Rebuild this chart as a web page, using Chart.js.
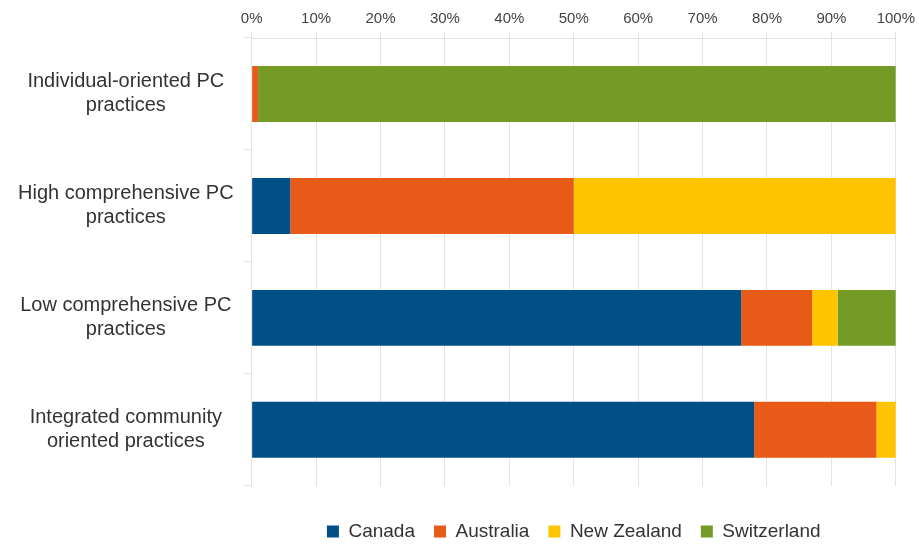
<!DOCTYPE html>
<html>
<head>
<meta charset="utf-8">
<script src="https://cdn.jsdelivr.net/npm/chart.js@4"></script>
<style>
  html, body { margin: 0; padding: 0; background: #fff; }
  #wrap { width: 919px; height: 544px; position: relative; }
</style>
</head>
<body>
<div id="wrap"><canvas id="grafico"></canvas></div>
<script>
// categorias (eixo y) e valores por país, em %
const categorias = [
    ["Individual-oriented PC", "practices"],
    ["High comprehensive PC", "practices"],
    ["Low comprehensive PC", "practices"],
    ["Integrated community", "oriented practices"]
];
const canada      = [0, 6, 76, 78];
const australia   = [1, 44, 11, 19];
const novaZelandia = [0, 50, 4, 3];
const suica       = [99, 0, 9, 0];
const ticksX = [0, 10, 20, 30, 40, 50, 60, 70, 80, 90, 100];

const fonte = "'Liberation Sans', Arial, sans-serif";

const ctx = document.getElementById("grafico").getContext("2d");
new Chart(ctx, {
    type: "bar",
    data: {
        labels: categorias,
        datasets: [
            { label: "Canada", data: canada, backgroundColor: "#004f86" },
            { label: "Australia", data: australia, backgroundColor: "#e85a18" },
            { label: "New Zealand", data: novaZelandia, backgroundColor: "#ffc400" },
            { label: "Switzerland", data: suica, backgroundColor: "#739b26" }
        ]
    },
    options: {
        indexAxis: "y",
        responsive: true,
        maintainAspectRatio: false,
        animation: false,
        layout: { padding: { top: 6, left: 8, right: 12, bottom: -7 } },
        datasets: {
            bar: { categoryPercentage: 1, barPercentage: 0.5, borderWidth: 0 }
        },
        scales: {
            x: {
                position: "top",
                stacked: true,
                min: 0,
                max: 100,
                afterBuildTicks: function (axis) {
                    axis.ticks = ticksX.map(v => ({ value: v }));
                },
                ticks: {
                    callback: v => v + "%",
                    color: "#444",
                    font: { family: fonte, size: 15 },
                    padding: 4,
                    maxRotation: 0
                },
                grid: { color: "#e3e3e3", tickLength: 6 },
                border: { color: "#e3e3e3" }
            },
            y: {
                stacked: true,
                ticks: {
                    color: "#333",
                    font: { family: fonte, size: 20 },
                    crossAlign: "center",
                    padding: 10
                },
                grid: { drawOnChartArea: false, tickLength: 8, color: "#e3e3e3", offset: true },
                border: { color: "#e3e3e3" }
            }
        },
        plugins: {
            legend: {
                position: "bottom",
                fullSize: false,
                // título vazio só para empurrar a legenda para baixo
                title: { display: true, text: "", font: { size: 1 }, padding: { top: 0, bottom: 16 } },
                labels: {
                    color: "#333",
                    font: { family: fonte, size: 19 },
                    boxWidth: 12,
                    boxHeight: 12,
                    padding: 19
                }
            },
            tooltip: { enabled: false }
        }
    }
});
</script>
</body>
</html>
